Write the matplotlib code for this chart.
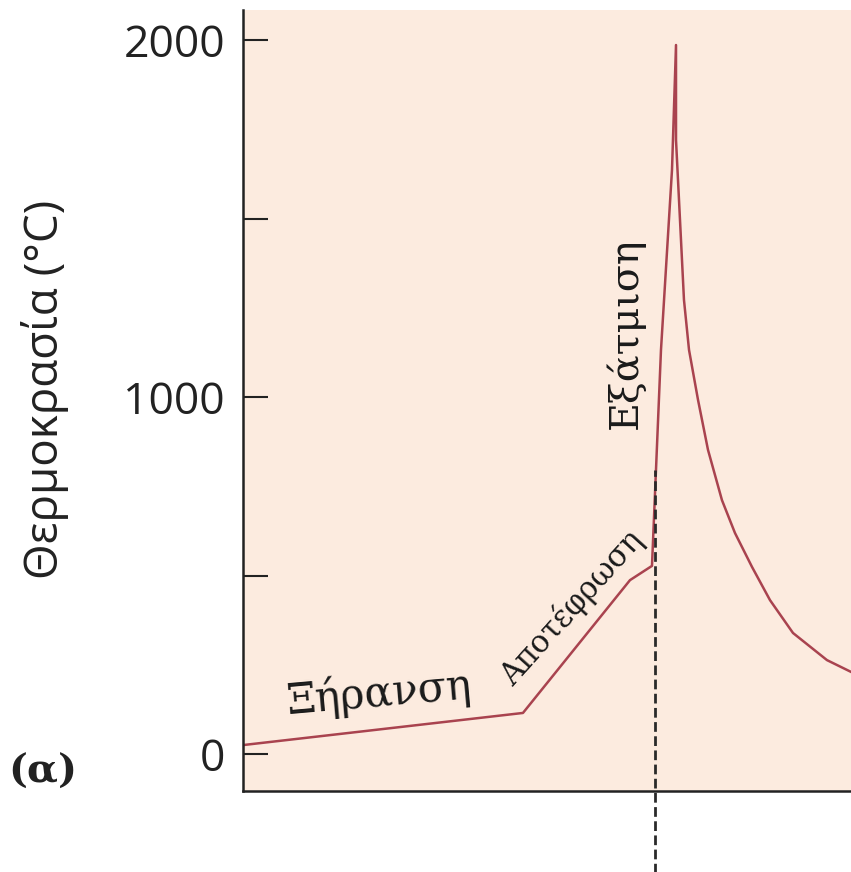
import matplotlib
matplotlib.use('Agg')
import matplotlib.pyplot as plt

# time axis is arbitrary (no ticks), temperature in degC
time = [0, 46.05, 63.65, 67.27, 68.75, 70.56, 71.22, 71.22, 72.04, 72.53, 73.36,
        74.84, 76.48, 78.78, 80.92, 83.72, 86.68, 90.46, 96.05, 100]
temp = [25, 115, 487, 527, 1132, 1636, 1986, 1720, 1440, 1272, 1132,
        992, 852, 711, 619, 524, 431, 339, 263, 230]

ignition_time = 67.8
ignition_top = 795

ytick_vals = [0, 500, 1000, 1500, 2000]
ytick_labels = ['0', '', '1000', '', '2000']

stage_labels = ['Ξήρανση', 'Αποτέφρωση', 'Εξάτμιση']
stage_x = [22.5, 54.1, 62.8]
stage_y = [170, 410, 1180]
stage_rot = [5, 48, 90]
stage_size = [30, 22, 28.5]

bg = '#fcebdf'
line_col = '#a9434f'

fig = plt.figure(figsize=(8.51, 8.72), dpi=100)
ax = fig.add_axes([0.2855, 0.0929, 0.7145, 0.8956])
ax.set_facecolor(bg)

ax.plot(time, temp, color=line_col, lw=1.8)
ax.plot([ignition_time, ignition_time], [-335, ignition_top], color='#2a2a2a',
        lw=2.0, ls=(0, (3.5, 1.6)), clip_on=False, zorder=3)

ax.set_xlim(0, 100)
ax.set_ylim(-103.6, 2084)

ax.spines['top'].set_visible(False)
ax.spines['right'].set_visible(False)
for s in ['left', 'bottom']:
    ax.spines[s].set_linewidth(1.8)
    ax.spines[s].set_color('#222222')

ax.set_xticks([])
ax.set_yticks(ytick_vals)
ax.set_yticklabels(ytick_labels, fontfamily='Open Sans', fontsize=32)
ax.tick_params(axis='y', direction='in', length=18, width=1.5, pad=13, colors='#222222')

fig.text(0.053, 0.553, 'Θερμοκρασία (°C)', rotation=90, ha='center', va='center',
         fontfamily='Open Sans', fontsize=33, color='#222222')
fig.text(0.05, 0.115, '(α)', ha='center', va='center', fontfamily='DejaVu Serif',
         fontweight='bold', fontsize=29, color='#222222')

for lab, x, y, r, fs in zip(stage_labels, stage_x, stage_y, stage_rot, stage_size):
    ax.text(x, y, lab, rotation=r, ha='center', va='center', rotation_mode='anchor',
            fontfamily='DejaVu Serif', fontsize=fs, color='#1a1a1a')

fig.savefig('out.png', dpi=100)
